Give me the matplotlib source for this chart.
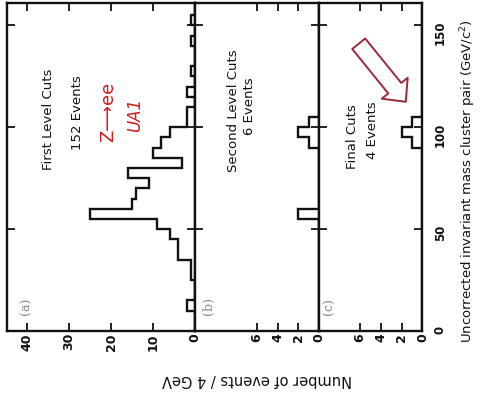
import numpy as np
import matplotlib.pyplot as plt

# mass bins (GeV), 5 GeV wide, 0..160
edges = np.arange(0, 165, 5)

# events per bin
first_cuts = [0, 0, 2, 0, 0, 1, 1, 4, 4, 6, 9, 25, 15, 14, 11, 16,
              3, 10, 8, 6, 2, 2, 0, 2, 0, 1, 0, 0, 1, 0, 1, 0]
second_cuts = [0] * 11 + [2] + [0] * 6 + [1, 2, 1] + [0] * 11
final_cuts = [0] * 18 + [1, 2, 1] + [0] * 11

mass_ticks = [0, 50, 100, 150]
ticks_a = [0, 10, 20, 30, 40]
ticks_bc = [0, 2, 4, 6]

ink = '#111111'
red = '#d41a1a'
arrow_red = '#9b2a3c'

fig = plt.figure(figsize=(4.81, 4.0), dpi=100)

top = 1 - 3 / 400
bottom = 1 - 331 / 400
h = top - bottom
ax_a = fig.add_axes([7 / 481, bottom, 188 / 481, h])
ax_b = fig.add_axes([195 / 481, bottom, 124 / 481, h])
ax_c = fig.add_axes([319 / 481, bottom, 103.5 / 481, h])

panels = [
    (ax_a, first_cuts, 44.8, ticks_a, '(a)'),
    (ax_b, second_cuts, 12.0, ticks_bc, '(b)'),
    (ax_c, final_cuts, 9.9, ticks_bc, '(c)'),
]

for ax, counts, xmax, xt, tag in panels:
    ax.stairs(counts, edges, orientation='horizontal', color=ink, lw=1.7, baseline=0)
    ax.set_xlim(xmax, 0)
    ax.set_ylim(0, 161)
    ax.set_xticks(xt)
    ax.set_xticklabels([str(t) for t in xt], rotation=90, fontsize=9, fontweight='bold')
    ax.set_yticks(mass_ticks)
    ax.tick_params(axis='x', direction='in', length=6, width=1.3, top=True, pad=1.5, colors=ink)
    ax.tick_params(axis='y', direction='in', length=6, width=1.3, right=True,
                   labelleft=False, colors=ink)
    for s in ax.spines.values():
        s.set_linewidth(1.7)
        s.set_color(ink)
    ax.text(0.105, 0.075, tag, transform=ax.transAxes, rotation=90, ha='center', va='center',
            fontsize=9, color='#8a8a8a', family='DejaVu Serif')

ax_c.tick_params(axis='y', labelright=True, pad=8)
for lab in ax_c.get_yticklabels():
    lab.set_rotation(90)
    lab.set_fontsize(8.5)
    lab.set_fontweight('bold')

# panel texts
ax_a.text(35, 104, 'First Level Cuts', rotation=90, ha='center', va='center', fontsize=9.5, color=ink)
ax_a.text(28.1, 107, '152 Events', rotation=90, ha='center', va='center', fontsize=9.5, color=ink)
ax_a.text(20.7, 107.4, 'Z\u27f6ee', rotation=90, ha='center', va='center', fontsize=13, color=red)
ax_a.text(14.3, 106, 'UA1', rotation=90, ha='center', va='center', fontsize=12,
          color=red, style='italic')

ax_b.text(8.3, 108, 'Second Level Cuts', rotation=90, ha='center', va='center', fontsize=9.5, color=ink)
ax_b.text(6.75, 110.4, '6 Events', rotation=90, ha='center', va='center', fontsize=9.5, color=ink)

ax_c.text(6.7, 95.2, 'Final Cuts', rotation=90, ha='center', va='center', fontsize=9.5, color=ink)
ax_c.text(4.8, 98.6, '4 Events', rotation=90, ha='center', va='center', fontsize=9.5, color=ink)

ax_c.annotate('', xy=(1.6, 112.5), xytext=(6.1, 141),
              arrowprops=dict(arrowstyle='simple,head_length=0.63,head_width=1.2,tail_width=0.6',
                              fc='white', ec=arrow_red, lw=1.4, shrinkA=0, shrinkB=0,
                              mutation_scale=20))

fig.text(257 / 481, 1 - 379 / 400, 'Number of events / 4 GeV', rotation=180,
         ha='center', va='center', fontsize=10.5, color=ink)
fig.text(468 / 481, 1 - 181 / 400, 'Uncorrected invariant mass cluster pair (GeV/c$^{2}$)',
         rotation=90, ha='center', va='center', fontsize=9.5, color=ink)

fig.savefig('out.png', dpi=100, facecolor='white')
